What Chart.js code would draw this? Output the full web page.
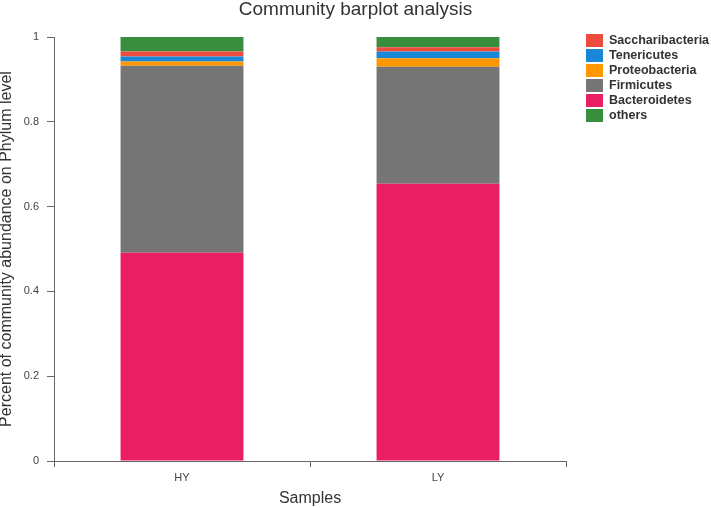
<!DOCTYPE html>
<html>
<head>
<meta charset="utf-8">
<script src="https://cdn.jsdelivr.net/npm/chart.js@4/dist/chart.umd.min.js"></script>
<style>
  html, body { margin: 0; padding: 0; background: #fff; }
  #wrap { width: 711px; height: 508px; }
</style>
</head>
<body>
<div id="wrap"><canvas id="myChart" width="711" height="508"></canvas></div>
<script>
const samples = ["HY", "LY"];
const bacteroidetes = [0.491, 0.654];
const firmicutes = [0.441, 0.276];
const proteobacteria = [0.010, 0.020];
const tenericutes = [0.012, 0.016];
const saccharibacteria = [0.012, 0.010];
const others = [0.034, 0.024];
const yTicks = [0, 0.2, 0.4, 0.6, 0.8, 1];

// order shown in the legend
const legendOrder = ["Saccharibacteria", "Tenericutes", "Proteobacteria", "Firmicutes", "Bacteroidetes", "others"];

const datasets = [
    { label: "Bacteroidetes", data: bacteroidetes, backgroundColor: "#E91E63" },
    { label: "Firmicutes", data: firmicutes, backgroundColor: "#757575" },
    { label: "Proteobacteria", data: proteobacteria, backgroundColor: "#FF9800" },
    { label: "Tenericutes", data: tenericutes, backgroundColor: "#1A87D6" },
    { label: "Saccharibacteria", data: saccharibacteria, backgroundColor: "#EE4B3F" },
    { label: "others", data: others, backgroundColor: "#388E3C" },
];

const sideLegend = {
    id: "sideLegend",
    afterDraw(chart) {
        const ctx = chart.ctx;
        ctx.save();
        // title
        ctx.fillStyle = "#333";
        ctx.font = "19px 'Liberation Sans', Arial, sans-serif";
        ctx.textAlign = "center";
        ctx.textBaseline = "middle";
        ctx.fillText("Community barplot analysis", chart.width / 2, 10);
        // legend
        ctx.font = "bold 12.5px 'Liberation Sans', Arial, sans-serif";
        ctx.textAlign = "left";
        let y = 40.5;
        for (let name of legendOrder) {
            let ds = chart.data.datasets.find((d) => d.label == name);
            ctx.fillStyle = ds.backgroundColor;
            ctx.fillRect(586, y - 6.5, 17, 13);
            ctx.fillStyle = "#333";
            ctx.fillText(name, 609, y + 0.5);
            y += 15;
        }
        ctx.restore();
    },
};

const tickValues = (scale) => {
    scale.ticks = yTicks.map((v) => ({ value: v }));
};

const config = {
    type: "bar",
    data: { labels: samples, datasets },
    options: {
        responsive: false,
        animation: false,
        layout: { padding: { top: 37, right: 145, left: 0, bottom: 0 } },
        plugins: {
            legend: { display: false },
            tooltip: { enabled: false },
        },
        datasets: {
            bar: { categoryPercentage: 1, barPercentage: 0.48 },
        },
        scales: {
            x: {
                stacked: true,
                afterFit: (scale) => { scale.height = 47; },
                grid: { offset: true, drawOnChartArea: false, tickLength: 6, color: "#666" },
                border: { color: "#666" },
                ticks: { color: "#444", font: { family: "'Liberation Sans', Arial", size: 11 }, padding: 4 },
                title: {
                    display: true, text: "Samples", color: "#333",
                    font: { family: "'Liberation Sans', Arial", size: 16 },
                    padding: { top: 0, bottom: 0 },
                },
            },
            y: {
                stacked: true,
                min: 0,
                max: 1,
                afterFit: (scale) => { scale.width = 54; },
                afterBuildTicks: tickValues,
                grid: { drawOnChartArea: false, tickLength: 7, color: "#666" },
                border: { color: "#666" },
                ticks: {
                    color: "#444", font: { family: "'Liberation Sans', Arial", size: 11 }, padding: 8,
                    callback: (v) => String(Math.round(v * 10) / 10),
                },
                title: {
                    display: true, text: "Percent of community abundance on Phylum level", color: "#333",
                    font: { family: "'Liberation Sans', Arial", size: 16 },
                    padding: { top: -3, bottom: 0 },
                },
            },
        },
    },
    plugins: [sideLegend],
};

new Chart(document.getElementById("myChart"), config);
</script>
</body>
</html>
